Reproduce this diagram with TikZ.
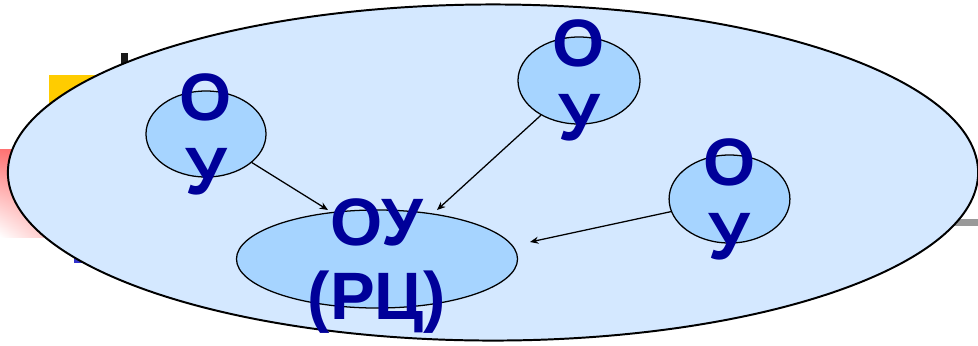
\documentclass[tikz,border=0pt]{standalone}
\usepackage{fontspec}
\setmainfont{Liberation Sans}
\usetikzlibrary{arrows.meta, shapes.geometric, shadings, calc}
\definecolor{ovalblue}{RGB}{212, 232, 255}
\definecolor{nodeblue}{RGB}{166, 212, 255}
\definecolor{textblue}{RGB}{0, 0, 153}
\definecolor{barblue}{RGB}{51, 51, 204}
\definecolor{baryellow}{RGB}{255, 204, 0}

\begin{document}
\begin{tikzpicture}[
    x=0.025cm, y=-0.025cm,
    unit/.style={ellipse, draw=black, line width=0.9pt, fill=nodeblue, inner sep=0pt},
    word/.style={text=textblue, font=\fontsize{47.7}{52.6}\selectfont\bfseries, align=center, inner sep=0pt},
    arrow/.style={-{Stealth[length=6pt, width=5pt]}, line width=0.9pt}
]
\useasboundingbox (0,0) rectangle (978,345);

% Restos de la diapositiva detras del ovalo
\fill[baryellow] (49,75) rectangle (110,130);
\fill[black!90] (121,53) rectangle (128,90);
\shade[upper left=red!55!white, upper right=red!60!white, lower left=white, lower right=red!35!white] (0,149) rectangle (80,237);
\fill[barblue] (74,235) rectangle (120,263);
\fill[black!40] (900,219) rectangle (978,226);

% Ovalo grande
\node[ellipse, draw=black, line width=1.4pt, fill=ovalblue, minimum width=24.25cm, minimum height=8.4cm, inner sep=0pt] (sys) at (493,172.5) {};

% Los cuatro nodos
\node[unit, minimum width=3cm, minimum height=2.15cm] (o1) at (206,134) {};
\node[unit, minimum width=3.05cm, minimum height=2.175cm] (o2) at (579,80.5) {};
\node[unit, minimum width=3.02cm, minimum height=2.2cm] (o3) at (729.5,199) {};
\node[unit, minimum width=7.025cm, minimum height=2.45cm] (rc) at (377,259) {};

% Flechas hacia el centro
\coordinate (e1) at (328,210);
\coordinate (e2) at (437,210);
\coordinate (e3) at (530,242);
\draw[arrow] (o1) -- (e1);
\draw[arrow] (o2) -- (e2);
\draw[arrow] (o3) -- (e3);

% Textos
\node[word] (o1txt) at (o1) {О\\У};
\node[word] (o2txt) at (o2) {О\\У};
\node[word] (o3txt) at (o3) {О\\У};
\node[word] (rctxt) at ($(rc)+(0,7)$) {ОУ\\(РЦ)};

\end{tikzpicture}
\end{document}
